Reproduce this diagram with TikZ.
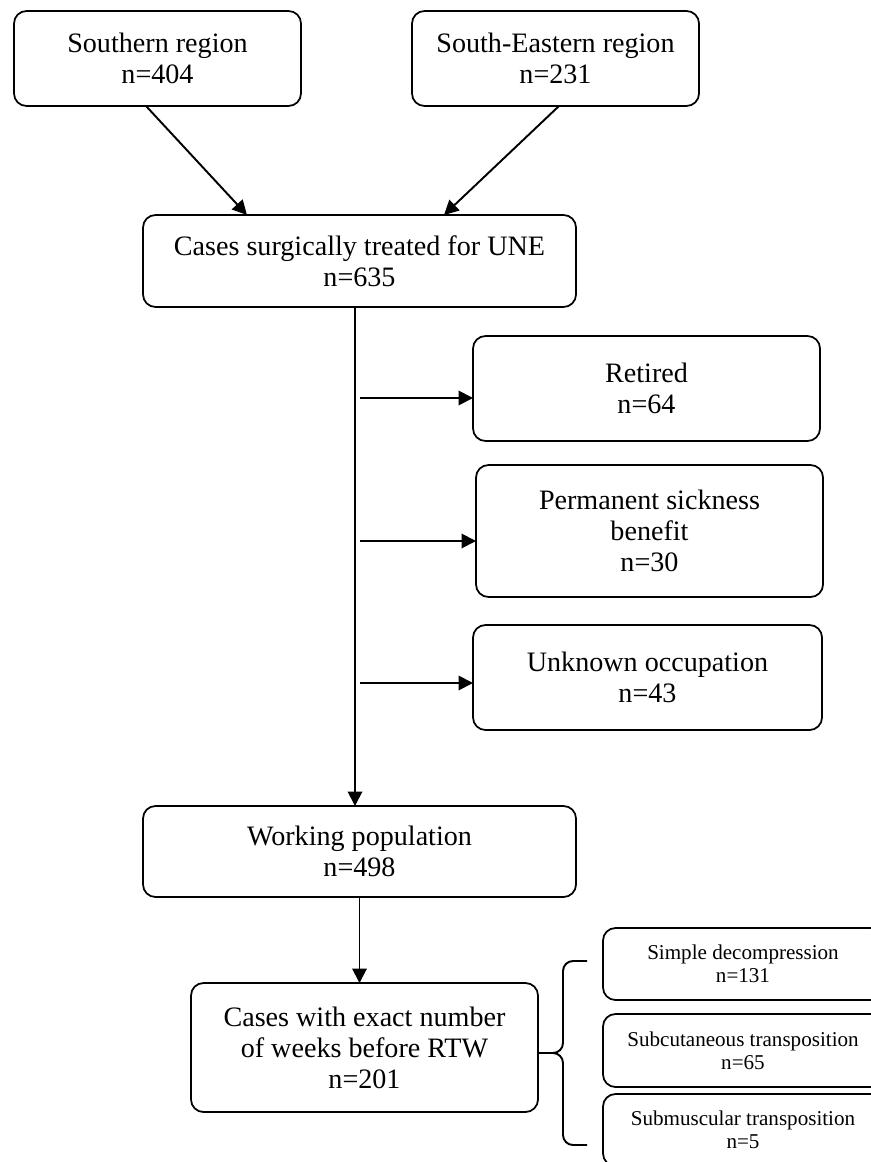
\documentclass[tikz,border=0pt]{standalone}
\usepackage{fontspec}
\setmainfont{Liberation Serif}
\usetikzlibrary{arrows.meta}

\tikzset{
    flowbox/.style={draw, rounded corners=0.25cm, line width=1pt, align=center,
        inner sep=0pt, outer sep=0pt, font=\fontsize{16}{17.6}\selectfont},
    subbox/.style={flowbox, font=\fontsize{12}{13}\selectfont},
    arr/.style={-{Triangle[length=0.29cm,width=0.29cm]}, line width=1.1pt},
}

\begin{document}
\begin{tikzpicture}
\useasboundingbox (0,0) rectangle (17.4,-23.24);

% regions
\node[flowbox, minimum width=5.74cm, minimum height=1.90cm] (south) at (3.15,-1.17)
    {Southern region\\n=404};
\node[flowbox, minimum width=5.74cm, minimum height=1.90cm] (seast) at (11.11,-1.17)
    {South-Eastern region\\n=231};
\node[flowbox, minimum width=8.66cm, minimum height=1.84cm] (cases) at (7.19,-5.22)
    {Cases surgically treated for UNE\\n=635};

% exclusions
\node[flowbox, minimum width=6.94cm, minimum height=2.10cm] (retired) at (12.93,-7.77)
    {Retired\\n=64};
\node[flowbox, minimum width=6.94cm, minimum height=2.64cm] (perm) at (12.99,-10.62)
    {Permanent sickness\\benefit\\n=30};
\node[flowbox, minimum width=6.98cm, minimum height=2.10cm] (unknown) at (12.95,-13.55)
    {Unknown occupation\\n=43};

\node[flowbox, minimum width=8.66cm, minimum height=1.82cm] (working) at (7.19,-17.03)
    {Working population\\n=498};
\node[flowbox, minimum width=6.94cm, minimum height=2.58cm] (exact) at (7.29,-20.95)
    {Cases with exact number\\of weeks before RTW\\n=201};

% surgery types
\node[subbox, minimum width=5.6cm, minimum height=1.44cm] (simple) at (14.86,-19.28)
    {Simple decompression\\n=131};
\node[subbox, minimum width=5.6cm, minimum height=1.46cm] (subcut) at (14.86,-21.01)
    {Subcutaneous transposition\\n=65};
\node[subbox, minimum width=5.6cm, minimum height=1.44cm] (submus) at (14.86,-22.60)
    {Submuscular transposition\\n=5};

\draw[arr] ([xshift=-0.23cm]south.south) -- ([xshift=-2.25cm]cases.north);
\draw[arr] ([xshift=0.07cm]seast.south) -- ([xshift=1.69cm]cases.north);
\draw[arr] ([xshift=-0.09cm]cases.south) -- ([xshift=-0.09cm]cases.south |- working.north);

\coordinate (t1) at (7.20,-7.96);
\coordinate (t2) at (7.20,-10.82);
\coordinate (t3) at (7.20,-13.66);
\draw[arr] (t1) -- (t1 -| retired.west);
\draw[arr] (t2) -- (t2 -| perm.west);
\draw[arr] (t3) -- (t3 -| unknown.west);

\draw[arr] (working.south) -- (working.south |- exact.north);

% brace
\coordinate (tip) at ([yshift=-0.11cm]exact.east);
\coordinate (mid) at (11.26,-21.06);
\draw[line width=1.1pt, rounded corners=0.2cm]
    (11.74,-19.22) -- (11.26,-19.22) -- (mid |- tip) -- (tip);
\draw[line width=1.1pt, rounded corners=0.2cm]
    (11.74,-22.90) -- (11.26,-22.90) -- (mid |- tip) -- (tip);
\end{tikzpicture}
\end{document}
